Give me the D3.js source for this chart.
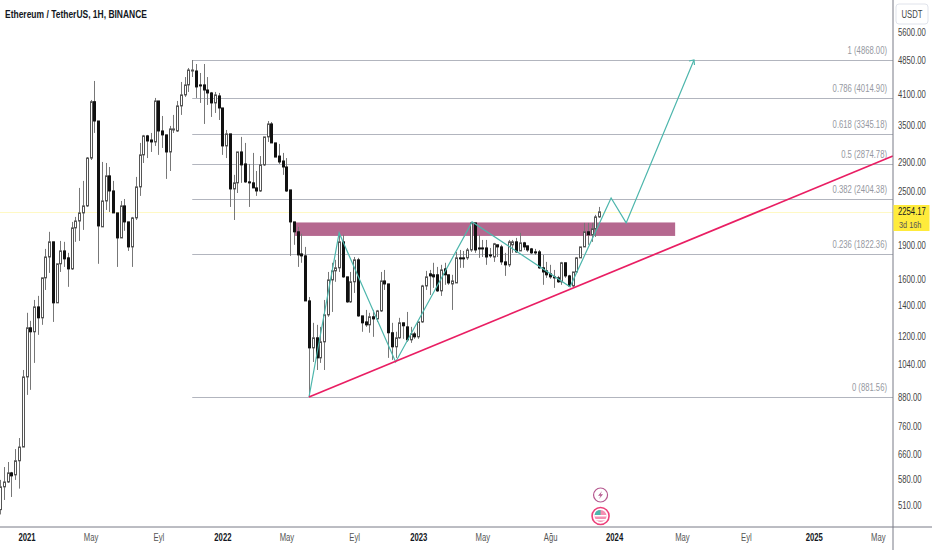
<!DOCTYPE html>
<html>
  <head>
    <meta charset="utf-8" />
    <title>Ethereum / TetherUS</title>
    <script src="https://d3js.org/d3.v7.min.js"></script>
    <style>
        body{
            margin:0;
            background:#fff;
        }
        text{
            font-family:"Liberation Sans",sans-serif;
        }
    </style>
  </head>
  <body>
    <svg id="chart" width="932" height="550"></svg>

    <script>
      // weekly bars, first one is the week of 2020-11-16
      var firstBar = Date.UTC(2020, 10, 16);
      var week = 7 * 24 * 3600 * 1000;

      var barOpen = [498,559,573,600,594,638,684,976,1252,1227,1392,1317,1613,1793,1936,1421,1732,1849,1785,1688,2078,2152,2242,2323,2961,3940,3573,2089,2382,2705,2506,2242,1975,2323,2142,1887,2186,2558,3009,3313,3245,3213,3955,3397,3330,3054,3414,3397,3857,4078,4290,4604,4604,4290,4290,4181,4119,3916,4057,3817,3149,3347,2532,2611,3054,2874,2624,2611,2545,2506,2860,3296,3520,3197,2991,2917,2830,2519,2142,2037,1821,1803,1435,1131,1190,1075,1166,1337,1596,1671,1697,1936,1621,1428,1581,1767,1330,1290,1271,1324,1310,1364,1588,1564,1221,1137,1190,1284,1258,1178,1214,1196,1290,1548,1646,1638,1638,1510,1688,1638,1564,1572,1785,1785,1785,1858,2131,1877,1877,1877,1812,1793,1907,1887,1749,1723,1907,1936,1849,1926,1897,1868,1840,1840,1697,1671,1646,1621,1613,1581,1741,1629,1548,1662,1785,1887,2037,2007,2068,2197];
      var barHigh = [579,618,634,603,677,716,1011,1351,1297,1442,1472,1613,1868,2037,1936,1732,1945,1936,1831,2142,2197,2545,2637,2976,3975,4377,3573,2903,2888,2830,2637,2242,2382,2406,2142,2197,2691,3197,3330,3330,3363,4016,3955,3665,3330,3485,3685,3955,4355,4465,4675,4868,4770,4558,4770,4465,4140,4140,4119,3817,3414,3347,2719,3054,3296,3197,2874,3039,2773,2991,3296,3573,3555,3197,3181,3039,2961,2519,2142,2089,2017,1887,1464,1284,1271,1258,1442,1662,1741,1767,2027,2007,1621,1662,1793,1785,1330,1371,1351,1371,1371,1662,1679,1564,1284,1227,1317,1284,1357,1258,1227,1290,1557,1671,1679,1741,1705,1723,1741,1638,1638,1840,1858,1849,1877,2142,2131,2007,1955,1955,1877,1926,1907,1907,1831,1955,1955,1975,2026,1936,1897,1877,1868,1858,1812,1749,1723,1679,1629,1749,1741,1638,1662,1793,1887,2131,2131,2131,2220,2311];
      var barLow = [486,523,570,531,579,554,684,891,914,1048,1208,1271,1517,1654,1290,1421,1662,1705,1541,1679,1936,1945,2057,2311,2932,3363,1732,2089,2276,2253,2242,1705,1975,2047,1849,1705,2163,2444,2888,2961,3054,3149,3009,3117,2664,2773,3363,3380,3685,4037,4140,4465,4016,3916,3520,3876,3647,3722,3591,3009,2961,2311,2163,2480,2611,2611,2311,2545,2444,2493,2845,3213,3197,2976,2874,2719,2493,1803,1907,1705,1741,1435,881.56,1053,1011,1048,1011,1324,1357,1581,1662,1613,1421,1421,1494,1324,1227,1258,1221,1196,1290,1357,1517,1075,1064,1075,1184,1184,1166,1160,1184,1184,1284,1517,1479,1533,1502,1472,1557,1557,1371,1572,1697,1697,1767,1840,1831,1785,1793,1723,1785,1749,1793,1723,1629,1705,1831,1831,1849,1858,1840,1821,1812,1688,1557,1613,1605,1533,1572,1557,1613,1541,1541,1654,1785,1887,1907,1936,1985,2186];
      var barClose = [559,573,600,591,638,684,976,1252,1227,1392,1317,1613,1793,1936,1421,1732,1849,1776,1688,2078,2152,2242,2323,2961,3940,3573,2099,2382,2705,2506,2242,1975,2323,2142,1887,2186,2558,3009,3313,3229,3213,3955,3397,3330,3054,3432,3432,3857,4078,4290,4627,4627,4247,4269,4181,4119,3916,4078,3817,3149,3347,2532,2611,3054,2860,2624,2611,2545,2506,2860,3296,3520,3197,2976,2903,2830,2506,2142,2037,1812,1803,1435,1131,1190,1075,1166,1337,1596,1671,1697,1936,1621,1428,1581,1767,1330,1284,1271,1324,1310,1364,1588,1564,1221,1137,1190,1284,1265,1178,1214,1196,1290,1548,1621,1629,1621,1510,1679,1638,1572,1588,1785,1776,1776,1858,2131,1858,1868,1868,1793,1803,1917,1887,1749,1723,1936,1936,1840,1926,1887,1858,1831,1831,1697,1662,1638,1621,1613,1581,1741,1629,1548,1662,1785,1887,2037,2007,2068,2197,2254.17];

      var yearTicks = ["2021-01-04","2021-05-03","2021-09-06","2022-01-03","2022-05-02","2022-09-05","2023-01-02","2023-05-01","2023-09-04","2024-01-01","2024-05-06","2024-09-02","2025-01-06","2025-05-05"];
      var yearLabels = ["2021","May","Eyl","2022","May","Eyl","2023","May","Ağu","2024","May","Eyl","2025","May"];
      var priceTicks = [5600,4850,4100,3500,2900,2500,1900,1600,1400,1200,1040,880,760,660,580,510];

      var fibLevels = ["1","0.786","0.618","0.5","0.382","0.236","0"];
      var fibPrices = [4868,4014.9,3345.18,2874.78,2404.38,1822.36,881.56];

      // drawings: bar number / price
      var pathBars = [82,90,105,125.3,151.3,162.2,166.2,184.2];
      var pathPrices = [881.56,2026,1053,2142,1541,2418,2131,4868];
      var trendBars = [82,237];
      var trendPrices = [881.56,2991];
      var zoneBars = [78.3,179.2];
      var zonePrices = [2136,1995];
      var fibStartBar = 51;
      var lastPrice = 2254.17;

      var plotRight = 893;
      var plotBottom = 527;
      var width = 932;
      var height = 550;

      function barDate(i) {
        return new Date(firstBar + i * week);
      }

      var x = d3.scaleUtc()
        .domain([new Date("2021-01-04"), new Date("2025-05-05")])
        .range([26.5, 877.8]);

      var y = d3.scaleLog()
        .domain([881.56, 4868])
        .range([397, 60]);

      var svg = d3.select("#chart");

      // last price line, under the candles
      svg.append("line")
        .attr("x1", 0).attr("x2", plotRight)
        .attr("y1", Math.round(y(lastPrice)) + 0.5).attr("y2", Math.round(y(lastPrice)) + 0.5)
        .attr("stroke", "#fff9c4");

      // fib levels
      var fibX = x(barDate(fibStartBar));
      var fib = svg.append("g").selectAll("g")
        .data(fibPrices)
        .enter().append("g");
      fib.append("line")
        .attr("x1", fibX).attr("x2", plotRight)
        .attr("y1", function(d) { return Math.round(y(d)) + 0.5; })
        .attr("y2", function(d) { return Math.round(y(d)) + 0.5; })
        .attr("stroke", "#b2b5be");
      fib.append("text")
        .attr("x", 887)
        .attr("y", function(d) { return y(d) - 6; })
        .attr("text-anchor", "end")
        .attr("font-size", 10)
        .attr("fill", "#9598a1")
        .text(function(d, i) { return fibLevels[i] + " (" + d.toFixed(2) + ")"; });

      // zone
      svg.append("rect")
        .attr("x", x(barDate(zoneBars[0])))
        .attr("width", x(barDate(zoneBars[1])) - x(barDate(zoneBars[0])))
        .attr("y", y(zonePrices[0]))
        .attr("height", y(zonePrices[1]) - y(zonePrices[0]))
        .attr("fill", "#b5688f");

      // candles
      var candles = svg.append("g").selectAll("g")
        .data(barOpen)
        .enter().append("g");
      function barX(i) {
        return Math.round(x(barDate(i))) + 0.5;
      }
      candles.append("line")
        .attr("x1", function(d, i) { return barX(i); })
        .attr("x2", function(d, i) { return barX(i); })
        .attr("y1", function(d, i) { return y(barHigh[i]); })
        .attr("y2", function(d, i) { return y(barLow[i]); })
        .attr("stroke", "#777");
      candles.append("rect")
        .attr("x", function(d, i) { return barX(i) - 1; })
        .attr("width", 2)
        .attr("y", function(d, i) { return y(Math.max(d, barClose[i])); })
        .attr("height", function(d, i) { return Math.max(1, Math.abs(y(d) - y(barClose[i]))); })
        .attr("fill", function(d, i) { return barClose[i] >= d ? "#fff" : "#111"; })
        .attr("stroke", function(d, i) { return barClose[i] >= d ? "#555" : "#111"; })
        .attr("stroke-width", 1);

      // teal path with arrow head
      var priceLine = d3.line()
        .x(function(d) { return x(barDate(d)); })
        .y(function(d, i) { return y(pathPrices[i]); });
      svg.append("path")
        .attr("d", priceLine(pathBars))
        .attr("fill", "none")
        .attr("stroke", "#4db6ac")
        .attr("stroke-width", 1.2);
      var tipX = x(barDate(pathBars[7]));
      var tipY = y(pathPrices[7]);
      svg.append("path")
        .attr("d", "M" + (tipX - 5) + "," + (tipY + 1) + "L" + tipX + "," + tipY + "L" + (tipX + 0.5) + "," + (tipY + 5))
        .attr("fill", "none")
        .attr("stroke", "#4db6ac")
        .attr("stroke-width", 1.2);

      // rising support line
      svg.append("line")
        .attr("x1", x(barDate(trendBars[0]))).attr("y1", y(trendPrices[0]))
        .attr("x2", x(barDate(trendBars[1]))).attr("y2", y(trendPrices[1]))
        .attr("stroke", "#e91e63")
        .attr("stroke-width", 1.7);

      // event icons
      var iconX = x(barDate(159)) + 1.5;
      var flash = svg.append("g").attr("transform", "translate(" + iconX + ",495)");
      flash.append("circle").attr("r", 7).attr("fill", "#fff").attr("stroke", "#b5588f").attr("stroke-width", 1.2);
      flash.append("path").attr("d", "M1.5,-4L-2.5,0.8H0L-1.5,4L2.5,-0.8H0Z").attr("fill", "#b5588f");
      var earn = svg.append("g").attr("transform", "translate(" + iconX + ",516)");
      earn.append("circle").attr("r", 8.5).attr("fill", "#fff").attr("stroke", "#ec407a").attr("stroke-width", 1.6);
      earn.append("circle").attr("r", 6).attr("fill", "#f48fb1");
      earn.append("rect").attr("x", -6).attr("y", -1).attr("width", 12).attr("height", 1.5).attr("fill", "#fff");
      earn.append("rect").attr("x", -6).attr("y", 3).attr("width", 12).attr("height", 1.5).attr("fill", "#fff");
      earn.append("path").attr("d", "M-6,-1A6,6 0 0 1 0,-6V-1Z").attr("fill", "#4db6ac");

      // panes
      svg.append("rect").attr("x", 0).attr("y", plotBottom).attr("width", width).attr("height", height - plotBottom).attr("fill", "#fff");
      svg.append("rect").attr("x", plotRight + 0.5).attr("y", 0).attr("width", width - plotRight).attr("height", height).attr("fill", "#fff");
      svg.append("line").attr("x1", 0).attr("x2", width).attr("y1", plotBottom).attr("y2", plotBottom).attr("stroke", "#787b86");
      svg.append("line").attr("x1", plotRight).attr("x2", plotRight).attr("y1", 0).attr("y2", height).attr("stroke", "#787b86");

      // axes
      var xAxis = d3.axisBottom(x)
        .tickValues(yearTicks.map(function(d) { return new Date(d); }))
        .tickFormat(function(d, i) { return yearLabels[i]; })
        .tickSize(0)
        .tickPadding(7);
      var gx = svg.append("g")
        .attr("transform", "translate(0," + plotBottom + ")")
        .call(xAxis);
      gx.select(".domain").remove();
      gx.selectAll("text")
        .attr("font-size", 10)
        .attr("fill", "#555")
        .attr("font-weight", function(d, i) { return /^\d/.test(yearLabels[i]) ? "bold" : "normal"; });
      gx.selectAll("text")
        .filter(function(d, i) { return /^\d/.test(yearLabels[i]); })
        .attr("fill", "#131722");

      var yAxis = d3.axisRight(y)
        .tickValues(priceTicks)
        .tickFormat(d3.format(".2f"))
        .tickSize(0)
        .tickPadding(5);
      var gy = svg.append("g")
        .attr("transform", "translate(" + plotRight + ",0)")
        .call(yAxis);
      gy.select(".domain").remove();
      gy.selectAll("text")
        .attr("font-size", 10)
        .attr("fill", "#444");

      // price tag
      svg.append("rect").attr("x", plotRight + 0.5).attr("y", 205).attr("width", 36).attr("height", 26).attr("fill", "#ffeb3b");
      svg.append("text").attr("x", 898).attr("y", y(lastPrice) + 3.5).attr("font-size", 10).attr("fill", "#131722").text(lastPrice.toFixed(2));
      svg.append("text").attr("x", 899).attr("y", 228).attr("font-size", 9.5).attr("fill", "#555").text("3d 16h");

      // currency button
      svg.append("rect").attr("x", 896).attr("y", 4).attr("width", 32).attr("height", 20).attr("rx", 3).attr("fill", "#fff").attr("stroke", "#e0e3eb");
      svg.append("text").attr("x", 912).attr("y", 17.5).attr("text-anchor", "middle").attr("font-size", 10).attr("fill", "#444").text("USDT");

      // title
      svg.append("text").attr("x", 5).attr("y", 18).attr("font-size", 11).attr("font-weight", "bold").attr("fill", "#131722").text("Ethereum / TetherUS, 1H, BINANCE");

      // the reference font is narrower than anything installed, so squeeze the glyphs
      svg.selectAll("text").each(function() {
        d3.select(this)
          .attr("lengthAdjust", "spacingAndGlyphs")
          .attr("textLength", this.getComputedTextLength() * 0.77);
      });
    </script>
  </body>
</html>
